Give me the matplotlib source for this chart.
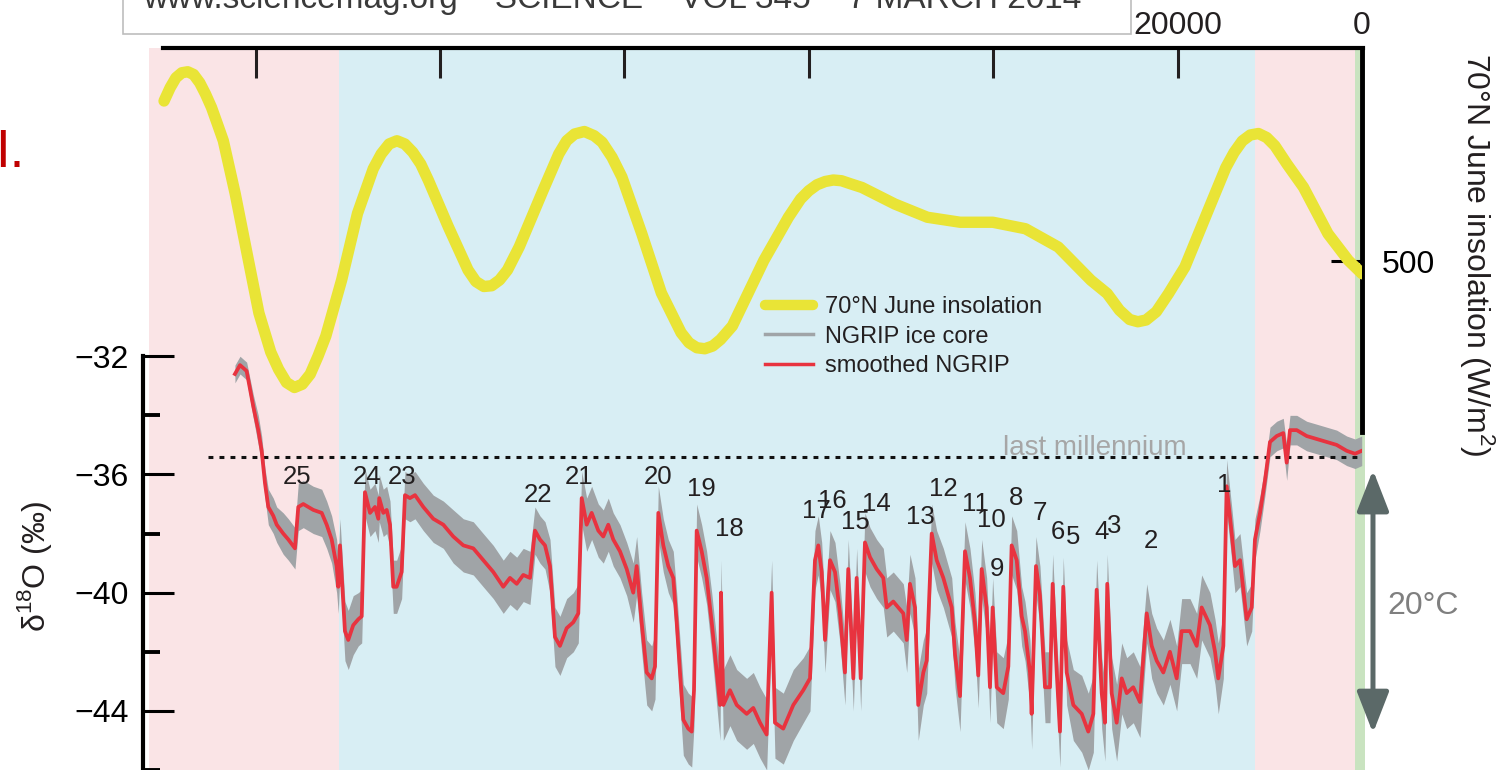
import matplotlib.pyplot as plt
import numpy as np
from matplotlib.lines import Line2D
from matplotlib.patches import Rectangle

plt.rcParams['font.family'] = ['Liberation Sans', 'DejaVu Sans']
plt.rcParams['mathtext.fontset'] = 'custom'
plt.rcParams['mathtext.rm'] = 'Liberation Sans'
plt.rcParams['text.color'] = '#231f20'

# 70N June insolation, age (yr BP) and W/m2
insol_age = [129940, 129280, 128650, 128010, 127370, 126730, 126070, 125430, 124790, 124150,
             123510, 122220, 120940, 119650, 118370, 117520, 116660, 115800, 114950, 114090,
             113230, 112390, 110670, 108960, 107250, 106390, 105530, 104680, 103820, 102960,
             102100, 101260, 99110, 96970, 96120, 95260, 94400, 93550, 92690, 91410,
             88840, 87130, 86270, 85410, 84350, 83280, 82420, 81350, 80280, 78130,
             76000, 73860, 73000, 72150, 71290, 70430, 69580, 68300, 66580, 64890,
             62220, 60900, 60010, 59120, 58230, 57350, 56460, 55580, 54240, 50690,
             47150, 43600, 40050, 36510, 32960, 29410, 27650, 26310, 25210, 24320,
             23430, 22320, 20990, 19220, 16560, 14780, 13890, 13000, 12130, 11240,
             10350, 9460, 8150, 6360, 3700, 1480, 0]
insol_wm2 = [564.0, 569.3, 573.3, 575.3, 575.7, 574.6, 571.3, 566.7, 561.4, 554.8,
             548.1, 526.9, 503.1, 479.2, 463.6, 456.7, 451.4, 449.4, 450.7, 454.7,
             462.0, 470.0, 492.5, 519.0, 536.9, 542.8, 546.8, 548.1, 546.8, 543.5,
             538.8, 532.2, 513.7, 496.4, 491.8, 489.8, 490.1, 492.4, 496.4, 505.7,
             528.2, 542.8, 548.1, 550.8, 551.8, 550.1, 547.5, 541.5, 533.6, 511.0,
             487.2, 471.3, 467.3, 465.3, 464.9, 466.0, 468.6, 474.0, 487.2, 500.2,
             517.5, 524.8, 528.1, 530.5, 531.8, 532.4, 532.1, 531.0, 529.4, 522.8,
             517.5, 515.5, 515.5, 512.9, 505.6, 492.3, 487.0, 480.3, 476.6, 475.7,
             476.4, 479.7, 487.0, 497.6, 521.5, 537.4, 543.4, 548.0, 550.4, 551.0,
             549.4, 546.1, 538.8, 529.5, 510.9, 500.2, 494.9]

# NGRIP d18O (smoothed) and half-width of the raw ice core scatter
ngrip_age = [122250, 121700, 120980, 120260, 119720, 119350, 118990, 118630, 118090, 117720,
             117010, 116460, 115740, 115380, 114840, 113750, 112840, 112300, 111760, 111220,
             111040, 110860, 110320, 109960, 109420, 108870, 108500, 108150, 107600, 107060,
             106700, 106600, 106160, 105790, 105430, 105080, 104710, 104170, 103810, 103270,
             102720, 101820, 100740, 99650, 98570, 97480, 96400, 95320, 94230, 93150,
             92420, 91690, 90980, 90250, 89710, 89170, 88620, 88080, 87540, 87000,
             86270, 85550, 85010, 84640, 84100, 83560, 82840, 82300, 81760, 81220,
             80490, 79760, 79050, 78680, 78140, 77590, 77050, 76690, 76330, 75790,
             75250, 74710, 74340, 73980, 73620, 73080, 72710, 72460, 72170, 71630,
             71090, 70540, 70000, 69640, 69530, 69280, 68560, 67830, 66750, 66030,
             65300, 64580, 64040, 63680, 62780, 61690, 60610, 59880, 59340, 58980,
             58610, 58250, 57710, 57170, 56630, 56090, 55730, 55180, 54820, 54380,
             53920, 53370, 52650, 51930, 51560, 50850, 49760, 49390, 49040, 48490,
             48140, 47590, 47220, 46680, 46140, 45420, 44510, 44150, 43610, 43070,
             42530, 41990, 41630, 41260, 40720, 40360, 40070, 39630, 38920, 38370,
             38010, 37460, 36920, 36560, 36020, 35840, 35370, 34940, 34390, 33850,
             33560, 33120, 32770, 32410, 32040, 31320, 30410, 29700, 29150, 28790,
             28240, 27890, 27640, 27160, 26620, 26070, 25530, 24820, 24090, 23360,
             22820, 22280, 21560, 20840, 20110, 19570, 18670, 17940, 17400, 16500,
             15950, 15600, 15050, 14690, 14140, 13790, 13240, 12520, 11970, 11620,
             11070, 10530, 9990, 9260, 8550, 8180, 7820, 7090, 6010, 4920,
             3840, 2760, 1670, 770, 40]
ngrip_d18o = [-32.6, -32.3, -32.5, -33.7, -34.5, -35.2, -36.3, -37.1, -37.4, -37.7,
              -38.0, -38.2, -38.5, -37.1, -37.0, -37.2, -37.3, -37.7, -38.2, -39.1,
              -39.8, -38.4, -41.3, -41.6, -41.1, -40.9, -40.8, -36.6, -37.3, -37.1,
              -37.5, -36.8, -37.3, -37.2, -37.7, -39.8, -39.8, -39.3, -36.7, -36.8,
              -36.7, -37.1, -37.5, -37.7, -38.1, -38.4, -38.5, -38.9, -39.3, -39.8,
              -39.5, -39.7, -39.4, -39.5, -37.9, -38.2, -38.4, -39.1, -41.5, -41.8,
              -41.2, -41.0, -40.7, -36.8, -37.7, -37.3, -37.9, -38.1, -37.7, -38.2,
              -38.6, -39.2, -40.0, -39.1, -41.0, -42.7, -42.9, -42.5, -37.3, -38.4,
              -39.1, -39.5, -41.0, -42.7, -44.3, -44.6, -44.7, -43.3, -37.9, -38.6,
              -39.5, -41.0, -42.7, -43.8, -40.0, -43.8, -43.3, -43.8, -44.1, -43.9,
              -44.4, -44.8, -40.0, -44.4, -44.6, -43.8, -43.3, -42.9, -38.9, -38.4,
              -39.3, -41.6, -38.9, -39.3, -40.7, -42.7, -39.2, -42.9, -39.5, -42.9,
              -38.3, -38.8, -39.2, -39.5, -40.5, -40.3, -40.7, -41.6, -39.7, -40.5,
              -43.8, -42.7, -42.3, -38.0, -38.9, -39.5, -40.5, -42.1, -43.5, -38.6,
              -39.5, -41.0, -42.8, -39.2, -40.5, -43.2, -40.5, -43.2, -43.4, -42.5,
              -38.4, -38.9, -40.8, -41.3, -42.7, -44.1, -39.1, -40.1, -43.2, -43.2,
              -39.7, -42.7, -44.7, -39.8, -42.7, -43.8, -44.1, -44.7, -44.1, -39.9,
              -43.4, -44.4, -39.7, -43.4, -44.4, -42.9, -43.4, -43.2, -43.7, -40.7,
              -41.8, -42.3, -42.7, -42.0, -42.9, -41.3, -41.3, -41.8, -40.5, -41.1,
              -42.0, -42.9, -41.8, -36.4, -38.0, -39.1, -38.9, -40.9, -40.5, -38.2,
              -37.3, -36.2, -34.9, -34.7, -34.6, -35.6, -34.5, -34.5, -34.7, -34.8,
              -34.9, -35.0, -35.2, -35.3, -35.2]
ngrip_spread = [0.3, 0.3, 0.3, 0.4, 0.5, 0.5, 0.5, 0.6, 0.6, 0.6,
                0.7, 0.7, 0.7, 0.8, 0.8, 0.8, 0.8, 0.8, 0.8, 0.9,
                0.9, 0.9, 1.0, 1.0, 1.0, 0.9, 0.9, 0.8, 0.8, 0.8,
                0.8, 0.8, 0.8, 0.8, 0.8, 0.9, 0.9, 0.9, 0.8, 0.8,
                0.8, 0.8, 0.8, 0.8, 0.9, 0.9, 0.9, 0.9, 0.9, 0.9,
                0.9, 0.9, 0.9, 0.9, 0.8, 0.8, 0.8, 0.9, 1.0, 1.0,
                1.0, 1.0, 1.0, 0.9, 0.9, 0.9, 0.9, 0.9, 0.9, 0.9,
                0.9, 0.9, 1.0, 1.0, 1.0, 1.1, 1.1, 1.1, 0.9, 0.9,
                0.9, 0.9, 1.0, 1.1, 1.2, 1.2, 1.2, 1.2, 0.9, 0.9,
                0.9, 1.0, 1.1, 1.2, 1.1, 1.2, 1.2, 1.2, 1.2, 1.2,
                1.2, 1.2, 1.1, 1.2, 1.2, 1.2, 1.1, 1.1, 1.0, 1.0,
                1.0, 1.1, 1.0, 1.0, 1.0, 1.1, 1.0, 1.1, 1.0, 1.1,
                1.0, 1.0, 1.0, 1.0, 1.0, 1.0, 1.0, 1.1, 1.0, 1.0,
                1.2, 1.1, 1.1, 1.0, 1.0, 1.0, 1.0, 1.1, 1.2, 1.0,
                1.0, 1.0, 1.1, 1.0, 1.0, 1.2, 1.0, 1.2, 1.2, 1.1,
                1.0, 1.0, 1.0, 1.0, 1.1, 1.2, 1.0, 1.0, 1.2, 1.2,
                1.0, 1.1, 1.2, 1.0, 1.1, 1.2, 1.3, 1.3, 1.3, 1.0,
                1.2, 1.3, 1.0, 1.2, 1.3, 1.2, 1.2, 1.2, 1.2, 1.0,
                1.1, 1.1, 1.1, 1.1, 1.1, 1.1, 1.1, 1.1, 1.1, 1.1,
                1.1, 1.2, 1.1, 0.9, 0.9, 0.9, 0.9, 0.9, 0.8, 0.7,
                0.6, 0.5, 0.5, 0.5, 0.5, 0.6, 0.5, 0.5, 0.5, 0.5,
                0.5, 0.5, 0.5, 0.5, 0.5]

# Dansgaard-Oeschger event numbers
do_labels = ['25', '24', '23', '22', '21', '20', '19', '18', '17', '16', '15', '14', '13',
             '12', '11', '10', '9', '8', '7', '6', '5', '4', '3', '2', '1']
do_age = [115550, 107960, 104100, 89350, 84940, 76400, 71700, 68670, 59230, 57420, 55000,
          52650, 47950, 45420, 41990, 40170, 39630, 37540, 34940, 32950, 31390, 28240,
          26910, 22930, 14980]
do_d18o = [-36.1, -36.1, -36.1, -36.7, -36.1, -36.1, -36.5, -37.85, -37.25, -36.9, -37.6,
           -37.0, -37.45, -36.5, -37.0, -37.55, -39.2, -36.8, -37.3, -37.95, -38.1, -37.95,
           -37.75, -38.25, -36.35]

last_millennium = -35.4

W, H = 1503, 770
fig = plt.figure(figsize=(W / 100, H / 100), dpi=100)
ax = fig.add_axes([148.5 / W, 0, (1362.1 - 148.5) / W, (H - 48) / H])
ax.set_xlim(131625, 0)
ax.set_ylim(-45.96, -21.57)

# climate periods
ax.axvspan(131625, 110930, color='#fae4e6', lw=0, zorder=0)
ax.axvspan(110930, 11670, color='#d8eef4', lw=0, zorder=0)
ax.axvspan(11670, 800, color='#fae4e6', lw=0, zorder=0)
ax.axvspan(800, -330, color='#c9e3c0', lw=0, zorder=0, clip_on=False)

d = np.array(ngrip_d18o)
s = np.array(ngrip_spread)
ax.fill_between(ngrip_age, d - s, d + s, color='#a0a4a7', lw=0, zorder=3)
ax.plot(ngrip_age, ngrip_d18o, color='#e8333f', lw=2.7, zorder=4)

ax.plot([125200, 0], [last_millennium, last_millennium], color='#111111', lw=2.2,
        ls=(0, (1.6, 2.0)), zorder=3.5)
ax.text(28970, -35.33, 'last millennium', color='#a6a6a6', fontsize=20,
        ha='center', va='baseline', zorder=2)

for lab, a, v in zip(do_labels, do_age, do_d18o):
    ax.text(a, v, lab, fontsize=18.5, ha='center', va='center', zorder=5)

# top (age) axis
ax.xaxis.tick_top()
ticks = list(range(0, 130000, 20000))
ax.set_xticks(ticks)
ax.set_xticklabels([str(t) if t <= 20000 else '' for t in ticks])
ax.tick_params(axis='x', direction='in', length=21.6, width=2.2, pad=5, labelsize=23,
               top=True, bottom=False, colors='#231f20')

ax.set_yticks([-44, -40, -36, -32])
ax.set_yticks([-46, -42, -38, -34], minor=True)
ax.tick_params(axis='y', which='major', direction='in', length=22, width=2.2, pad=10,
               labelsize=23)
ax.tick_params(axis='y', which='minor', direction='in', length=12, width=2.8)
for side in ['right', 'bottom']:
    ax.spines[side].set_visible(False)
ax.spines['top'].set_linewidth(3)
ax.spines['top'].set_bounds(130000, -150)
ax.spines['left'].set_linewidth(3)
ax.spines['left'].set_position(('outward', 4))
ax.spines['left'].set_bounds(-50, -32)

# insolation axis
axr = ax.twinx()
axr.set_ylim(296.4, 585.2)
axr.plot(insol_age, insol_wm2, color='#e9e436', lw=8.2, solid_capstyle='round',
         solid_joinstyle='round', zorder=5)
axr.set_yticks([500])
axr.tick_params(axis='y', direction='in', length=22, width=2.2, pad=14, labelsize=23)
for side in ['top', 'left', 'bottom']:
    axr.spines[side].set_visible(False)
axr.spines['right'].set_linewidth(3.5)
axr.spines['right'].set_bounds(431.6, 585.2)

# 20 degC arrow
ax.annotate('', xy=(-1180, -44.75), xytext=(-1180, -35.85),
            arrowprops=dict(arrowstyle='<|-|>,head_length=1.26,head_width=0.49',
                            color='#5b6968', lw=3.6, mutation_scale=20,
                            shrinkA=0, shrinkB=0),
            annotation_clip=False)
ax.text(-6600, -40.46, '20°C', fontsize=23, color='#7f7f7f', ha='center',
        va='center', clip_on=False)

fig.text(34 / W, 1 - 566 / H, 'δ$^{18}$O (‰)', rotation=90, ha='center', va='center',
         fontsize=23)
fig.text(1477 / W, 1 - 255 / H, '70°N June insolation (W/m$^2$)', rotation=270,
         ha='center', va='center', fontsize=23)
fig.text(-5 / W, 1 - 153 / H, 'I.', color='#c00000', fontsize=38, ha='left', va='center')

# journal header box
fig.add_artist(Rectangle((123 / W, 1 - 34 / H), (1131 - 123) / W, 0.2,
                         transform=fig.transFigure, facecolor='white',
                         edgecolor='#bdbdbd', lw=1.2, zorder=10, clip_on=False))
fig.text(143 / W, 1 - 8 / H, 'www.sciencemag.org    SCIENCE    VOL 345    7 MARCH 2014',
         fontsize=24, color='#3a3a3a', va='baseline', ha='left', zorder=11)

handles = [Line2D([], [], color='#e9e436', lw=7.5, solid_capstyle='round'),
           Line2D([], [], color='#a0a4a7', lw=2.5),
           Line2D([], [], color='#e8333f', lw=2.5)]
fig.legend(handles, ['70°N June insolation', 'NGRIP ice core', 'smoothed NGRIP'],
           loc='upper left', bbox_to_anchor=(765 / W, 1 - 296 / H), frameon=False,
           fontsize=17, handlelength=2.05, handletextpad=0.5, labelspacing=0.32,
           borderpad=0, borderaxespad=0)

fig.savefig('out.png', dpi=100)
